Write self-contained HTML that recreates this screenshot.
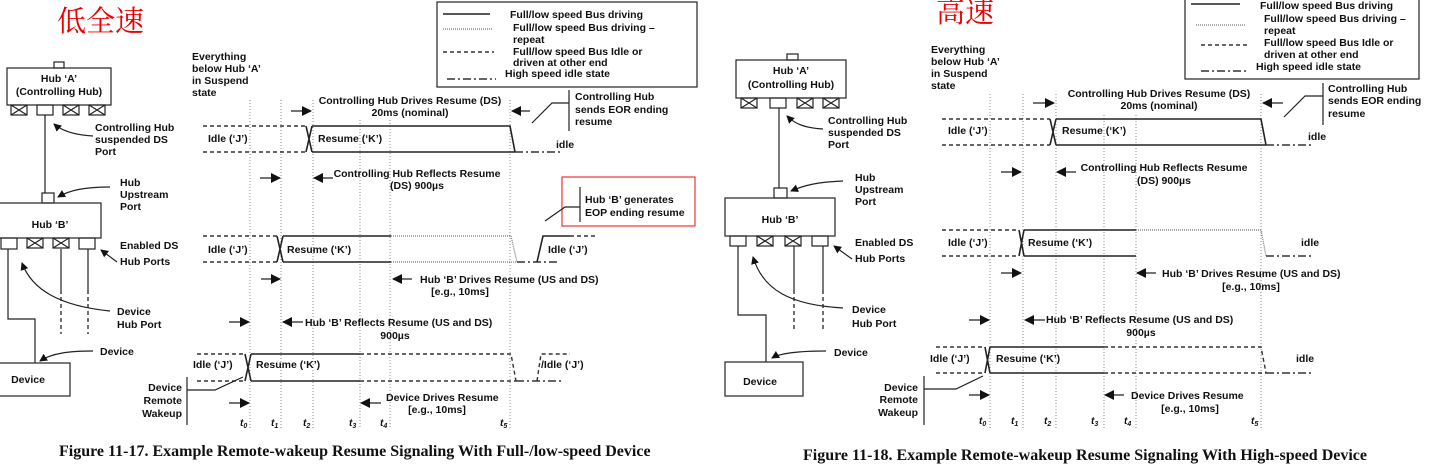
<!DOCTYPE html>
<html><head><meta charset="utf-8"><style>
html,body{margin:0;padding:0;background:#fff;}
svg{display:block;}
text{font-family:"Liberation Sans",Arial,sans-serif;font-weight:bold;font-size:10.5px;fill:#111;}
.cap{font-family:"Liberation Serif",serif;font-size:16px;}
.cjk{font-family:"Noto Serif CJK SC","Noto Sans CJK SC",serif;font-weight:normal;font-size:29px;fill:#e00;}
.t{font-style:italic;font-size:10px;}
.s{stroke:#222;stroke-width:1.6;fill:none;}
.d{stroke:#333;stroke-width:1.4;stroke-dasharray:4 3;fill:none;}
.o{stroke:#777;stroke-width:1.2;stroke-dasharray:1 1;fill:none;}
.v{stroke:#888;stroke-width:1;stroke-dasharray:1 2;fill:none;}
.dd{stroke:#333;stroke-width:1.4;stroke-dasharray:8 3 2 3;fill:none;}
.l{stroke:#222;stroke-width:1.2;fill:none;}
</style></head><body>
<svg width="1429" height="469" viewBox="0 0 1429 469" xmlns="http://www.w3.org/2000/svg">
<defs>
<marker id="ah" markerWidth="8" markerHeight="8" refX="7" refY="4" orient="auto" markerUnits="userSpaceOnUse"><path d="M0,0 L8,4 L0,8 z" fill="#111"/></marker>
<marker id="ab" markerWidth="10" markerHeight="10" refX="9" refY="5" orient="auto" markerUnits="userSpaceOnUse"><path d="M0,0 L10,5 L0,10 z" fill="#111"/></marker>
<g id="xb"><rect x="0" y="0" width="16" height="10" class="l" fill="#fff"/><path d="M0,0 L16,10 M16,0 L0,10" class="l"/></g>
</defs>

<!-- ================= LEFT ================= -->
<text x="57" y="31" class="cjk">低全速</text>
<rect x="54" y="62" width="10" height="6" class="l"/>
<rect x="7" y="68" width="104" height="37" class="l" stroke-width="1.5"/>
<text x="59" y="82" text-anchor="middle">Hub ‘A’</text>
<text x="59" y="95" text-anchor="middle">(Controlling Hub)</text>
<use href="#xb" x="11" y="105"/><rect x="37" y="105" width="16" height="10" class="l"/><use href="#xb" x="63" y="105"/><use href="#xb" x="89" y="105"/>
<path d="M45,115 V193" class="l"/>
<rect x="42" y="193" width="12" height="10" class="l"/>
<rect x="-1" y="203" width="102" height="35" class="l" stroke-width="1.5"/>
<text x="50" y="228" text-anchor="middle">Hub ‘B’</text>
<rect x="1" y="238" width="16" height="11" class="l"/><use href="#xb" x="27" y="238"/><use href="#xb" x="53" y="238"/><rect x="79" y="238" width="16" height="11" class="l"/>
<path d="M8,249 V319 H35 V363" class="l"/>
<path d="M61,249 V290 M88,249 V290" class="l"/>
<path d="M61,290 V334 M88,290 V334" class="d"/>
<rect x="-1" y="363" width="71" height="33" class="l" stroke-width="1.5"/>
<text x="28" y="383" text-anchor="middle">Device</text>
<text x="95" y="131">Controlling Hub</text><text x="95" y="143">suspended DS</text><text x="95" y="155">Port</text>
<path d="M93,136 C75,135 62,131 54,124" class="l" marker-end="url(#ah)"/>
<text x="120" y="186">Hub</text><text x="120" y="198">Upstream</text><text x="120" y="210">Port</text>
<path d="M110,187 C85,187 70,190 58,197" class="l" marker-end="url(#ah)"/>
<text x="120" y="249">Enabled DS</text><text x="120" y="265">Hub Ports</text>
<path d="M117,262 L101,250" class="l" marker-end="url(#ah)"/>
<text x="117" y="315">Device</text><text x="117" y="328">Hub Port</text>
<path d="M110,311 C60,306 32,290 22,263" class="l" marker-end="url(#ah)"/>
<text x="100" y="355">Device</text>
<path d="M93,351 C70,351 52,353 40,361" class="l" marker-end="url(#ah)"/>
<text x="192" y="60">Everything</text><text x="192" y="72">below Hub ‘A’</text><text x="192" y="84">in Suspend</text><text x="192" y="96">state</text>
<rect x="437" y="2" width="260" height="85" class="l"/>
<path d="M443,14 H490" class="s"/><path d="M443,29 H492" class="o"/><path d="M443,52 H494" class="d"/><path d="M447,79 H496" class="dd"/>
<text x="510" y="18">Full/low speed Bus driving</text>
<text x="513" y="31">Full/low speed Bus driving –</text><text x="513" y="43">repeat</text>
<text x="513" y="55">Full/low speed Bus Idle or</text><text x="513" y="66">driven at other end</text>
<text x="505" y="77">High speed idle state</text>
<path d="M250,100 V428 M281,100 V428 M313,100 V428 M360,120 V428 M390,120 V428 M510,100 V428" class="v"/>
<text x="410" y="104" text-anchor="middle">Controlling Hub Drives Resume (DS)</text>
<text x="410" y="116" text-anchor="middle">20ms (nominal)</text>
<path d="M291,111 H311" class="l" marker-end="url(#ab)"/><path d="M530,111 H512" class="l" marker-end="url(#ab)"/>
<text x="575" y="100">Controlling Hub</text><text x="575" y="113">sends EOR ending</text><text x="575" y="125">resume</text>
<path d="M569,90 V131 M532,123 L552,103 H569" class="l"/>
<path d="M203,126 H306 M203,152 H306" class="d"/>
<path d="M306,126 L312,152 M306,152 L312,126 M312,126 H510 L515,152 M312,152 H515" class="s"/>
<path d="M515,152 H562" class="dd"/>
<text x="208" y="142">Idle (‘J’)</text><text x="318" y="142">Resume (‘K’)</text><text x="556" y="148">idle</text>
<text x="417" y="177" text-anchor="middle">Controlling Hub Reflects Resume</text>
<text x="417" y="189" text-anchor="middle">(DS) 900µs</text>
<path d="M260,178 H280" class="l" marker-end="url(#ab)"/><path d="M333,178 H314" class="l" marker-end="url(#ab)"/>
<rect x="562" y="177" width="133" height="49" fill="none" stroke="#e33" stroke-width="1.2"/>
<path d="M580,187 V222 M545,221 L565,207 H580" class="l"/>
<text x="585" y="203">Hub ‘B’  generates</text><text x="585" y="216">EOP ending resume</text>
<path d="M203,236 H277 M203,262 H277" class="d"/>
<path d="M277,236 L283,262 M277,262 L283,236 M283,236 H391 M283,262 H391" class="s"/>
<path d="M391,236 H511 L517,262 M391,262 H517" class="o"/>
<path d="M517,262 H560" class="dd"/>
<path d="M537,262 L543,236 H570" class="s"/><path d="M570,236 H596" class="d"/>
<text x="208" y="253">Idle (‘J’)</text><text x="287" y="253">Resume (‘K’)</text><text x="548" y="253">Idle (‘J’)</text>
<path d="M261,279 H280" class="l" marker-end="url(#ab)"/><path d="M412,279 H393" class="l" marker-end="url(#ab)"/>
<text x="420" y="283">Hub ‘B’ Drives Resume (US and DS)</text>
<text x="460" y="295" text-anchor="middle">[e.g., 10ms]</text>
<path d="M229,322 H249" class="l" marker-end="url(#ab)"/><path d="M303,322 H283" class="l" marker-end="url(#ab)"/>
<text x="305" y="326">Hub ‘B’ Reflects Resume (US and DS)</text>
<text x="395" y="339" text-anchor="middle">900µs</text>
<path d="M197,354 H245 M197,381 H245" class="d"/>
<path d="M245,354 L251,381 M245,381 L251,354 M251,354 H360 M251,381 H360" class="s"/>
<path d="M360,354 H511 L516,381 M360,381 H516" class="d"/>
<path d="M516,381 H562" class="dd"/>
<path d="M537,381 L541,354 H570" class="d"/>
<text x="193" y="368">Idle (‘J’)</text><text x="256" y="368">Resume (‘K’)</text><text x="541" y="368">/Idle (‘J’)</text>
<text x="182" y="391" text-anchor="end">Device</text><text x="182" y="404" text-anchor="end">Remote</text><text x="182" y="417" text-anchor="end">Wakeup</text>
<path d="M187,377 V425 M187,390 H215 L243,377" class="l"/>
<path d="M229,403 H249" class="l" marker-end="url(#ab)"/><path d="M381,403 H361" class="l" marker-end="url(#ab)"/>
<text x="386" y="401">Device Drives Resume</text>
<text x="437" y="413" text-anchor="middle">[e.g., 10ms]</text>
<text x="240" y="426" class="t">t<tspan font-size="7" dy="2">0</tspan></text>
<text x="271" y="426" class="t">t<tspan font-size="7" dy="2">1</tspan></text>
<text x="303" y="426" class="t">t<tspan font-size="7" dy="2">2</tspan></text>
<text x="349" y="426" class="t">t<tspan font-size="7" dy="2">3</tspan></text>
<text x="380" y="426" class="t">t<tspan font-size="7" dy="2">4</tspan></text>
<text x="500" y="426" class="t">t<tspan font-size="7" dy="2">5</tspan></text>
<text x="59" y="456" class="cap">Figure 11-17.  Example Remote-wakeup Resume Signaling With Full-/low-speed Device</text>

<!-- ================= RIGHT ================= -->
<text x="936" y="22" class="cjk">高速</text>
<rect x="1185" y="-2" width="234" height="81" class="l"/>
<path d="M1191,4 H1240" class="s"/><path d="M1196,25 H1245" class="o"/><path d="M1201,45 H1250" class="d"/><path d="M1201,71 H1248" class="dd"/>
<text x="1260" y="9">Full/low speed Bus driving</text>
<text x="1264" y="22">Full/low speed Bus driving –</text><text x="1264" y="34">repeat</text>
<text x="1264" y="46">Full/low speed Bus Idle or</text><text x="1264" y="58">driven at other end</text>
<text x="1256" y="70">High speed idle state</text>
<rect x="787" y="54" width="11" height="6" class="l"/>
<rect x="736" y="60" width="110" height="38" class="l" stroke-width="1.5"/>
<text x="791" y="74" text-anchor="middle">Hub ‘A’</text>
<text x="791" y="88" text-anchor="middle">(Controlling Hub)</text>
<use href="#xb" x="741" y="98"/><rect x="770" y="98" width="16" height="10" class="l"/><use href="#xb" x="797" y="98"/><use href="#xb" x="823" y="98"/>
<path d="M779,108 V188" class="l"/>
<rect x="774" y="188" width="13" height="10" class="l"/>
<rect x="725" y="198" width="110" height="38" class="l" stroke-width="1.5"/>
<text x="780" y="223" text-anchor="middle">Hub ‘B’</text>
<rect x="730" y="236" width="16" height="10" class="l"/><use href="#xb" x="757" y="236"/><use href="#xb" x="785" y="236"/><rect x="812" y="236" width="16" height="10" class="l"/>
<path d="M738,246 V315 H766 V362" class="l"/>
<path d="M794,246 V290 M823,246 V290" class="l"/>
<path d="M794,290 V330 M823,290 V330" class="d"/>
<rect x="725" y="362" width="78" height="34" class="l" stroke-width="1.5"/>
<text x="760" y="385" text-anchor="middle">Device</text>
<text x="828" y="124">Controlling Hub</text><text x="828" y="136">suspended DS</text><text x="828" y="148">Port</text>
<path d="M823,129 C805,128 795,124 787,116" class="l" marker-end="url(#ah)"/>
<text x="855" y="181">Hub</text><text x="855" y="193">Upstream</text><text x="855" y="205">Port</text>
<path d="M843,181 C818,182 805,185 791,191" class="l" marker-end="url(#ah)"/>
<text x="855" y="246">Enabled DS</text><text x="855" y="262">Hub Ports</text>
<path d="M852,259 L834,246" class="l" marker-end="url(#ah)"/>
<text x="852" y="313">Device</text><text x="852" y="327">Hub Port</text>
<path d="M843,308 C790,305 763,290 753,257" class="l" marker-end="url(#ah)"/>
<text x="834" y="356">Device</text>
<path d="M826,351 C805,351 782,352 772,358" class="l" marker-end="url(#ah)"/>
<text x="931" y="53">Everything</text><text x="931" y="65">below Hub ‘A’</text><text x="931" y="77">in Suspend</text><text x="931" y="89">state</text>
<path d="M990,94 V428 M1023,94 V428 M1056,94 V428 M1104,115 V428 M1136,115 V428 M1261,94 V428" class="v"/>
<text x="1159" y="97" text-anchor="middle">Controlling Hub Drives Resume (DS)</text>
<text x="1159" y="109" text-anchor="middle">20ms (nominal)</text>
<path d="M1033,103 H1054" class="l" marker-end="url(#ab)"/><path d="M1283,103 H1263" class="l" marker-end="url(#ab)"/>
<text x="1328" y="92">Controlling Hub</text><text x="1328" y="104">sends EOR ending</text><text x="1328" y="117">resume</text>
<path d="M1323,83 V125 M1284,117 L1305,96 H1323" class="l"/>
<path d="M942,119 H1050 M942,145 H1050" class="d"/>
<path d="M1050,119 L1056,145 M1050,145 L1056,119 M1056,119 H1261 L1266,145 M1056,145 H1266" class="s"/>
<path d="M1266,145 H1313" class="dd"/>
<text x="948" y="134">Idle (‘J’)</text><text x="1062" y="134">Resume (‘K’)</text><text x="1308" y="140">idle</text>
<text x="1164" y="171" text-anchor="middle">Controlling Hub Reflects Resume</text>
<text x="1164" y="184" text-anchor="middle">(DS) 900µs</text>
<path d="M1001,172 H1021" class="l" marker-end="url(#ab)"/><path d="M1076,172 H1057" class="l" marker-end="url(#ab)"/>
<path d="M942,230 H1019 M942,256 H1019" class="d"/>
<path d="M1019,230 L1024,256 M1019,256 L1024,230 M1024,230 H1136 M1024,256 H1136" class="s"/>
<path d="M1136,230 H1261 L1266,256" class="o"/>
<path d="M1266,256 H1313" class="dd"/>
<text x="948" y="246">Idle (‘J’)</text><text x="1028" y="246">Resume (‘K’)</text><text x="1301" y="246">idle</text>
<path d="M1001,273 H1021" class="l" marker-end="url(#ab)"/><path d="M1156,273 H1137" class="l" marker-end="url(#ab)"/>
<text x="1162" y="277">Hub ‘B’ Drives Resume (US and DS)</text>
<text x="1251" y="290" text-anchor="middle">[e.g., 10ms]</text>
<path d="M969,320 H989" class="l" marker-end="url(#ab)"/><path d="M1045,320 H1025" class="l" marker-end="url(#ab)"/>
<text x="1046" y="323">Hub ‘B’ Reflects Resume (US and DS)</text>
<text x="1141" y="336" text-anchor="middle">900µs</text>
<path d="M936,347 H985 M936,373 H985" class="d"/>
<path d="M985,347 L990,373 M985,373 L990,347 M990,347 H1104 M990,373 H1104" class="s"/>
<path d="M1104,347 H1261 L1266,373 M1104,373 H1266" class="d"/>
<path d="M1266,373 H1313" class="dd"/>
<text x="930" y="362">Idle (‘J’)</text><text x="996" y="362">Resume (‘K’)</text><text x="1296" y="362">idle</text>
<text x="918" y="391" text-anchor="end">Device</text><text x="918" y="403" text-anchor="end">Remote</text><text x="918" y="416" text-anchor="end">Wakeup</text>
<path d="M924,376 V425 M924,389 H956 L983,376" class="l"/>
<path d="M969,395 H989" class="l" marker-end="url(#ab)"/><path d="M1124,395 H1105" class="l" marker-end="url(#ab)"/>
<text x="1131" y="399">Device Drives Resume</text>
<text x="1190" y="412" text-anchor="middle">[e.g., 10ms]</text>
<text x="979" y="424" class="t">t<tspan font-size="7" dy="2">0</tspan></text>
<text x="1011" y="424" class="t">t<tspan font-size="7" dy="2">1</tspan></text>
<text x="1044" y="424" class="t">t<tspan font-size="7" dy="2">2</tspan></text>
<text x="1091" y="424" class="t">t<tspan font-size="7" dy="2">3</tspan></text>
<text x="1124" y="424" class="t">t<tspan font-size="7" dy="2">4</tspan></text>
<text x="1251" y="424" class="t">t<tspan font-size="7" dy="2">5</tspan></text>
<text x="803" y="460" class="cap">Figure 11-18.  Example Remote-wakeup Resume Signaling With High-speed Device</text>
</svg>
</body></html>
